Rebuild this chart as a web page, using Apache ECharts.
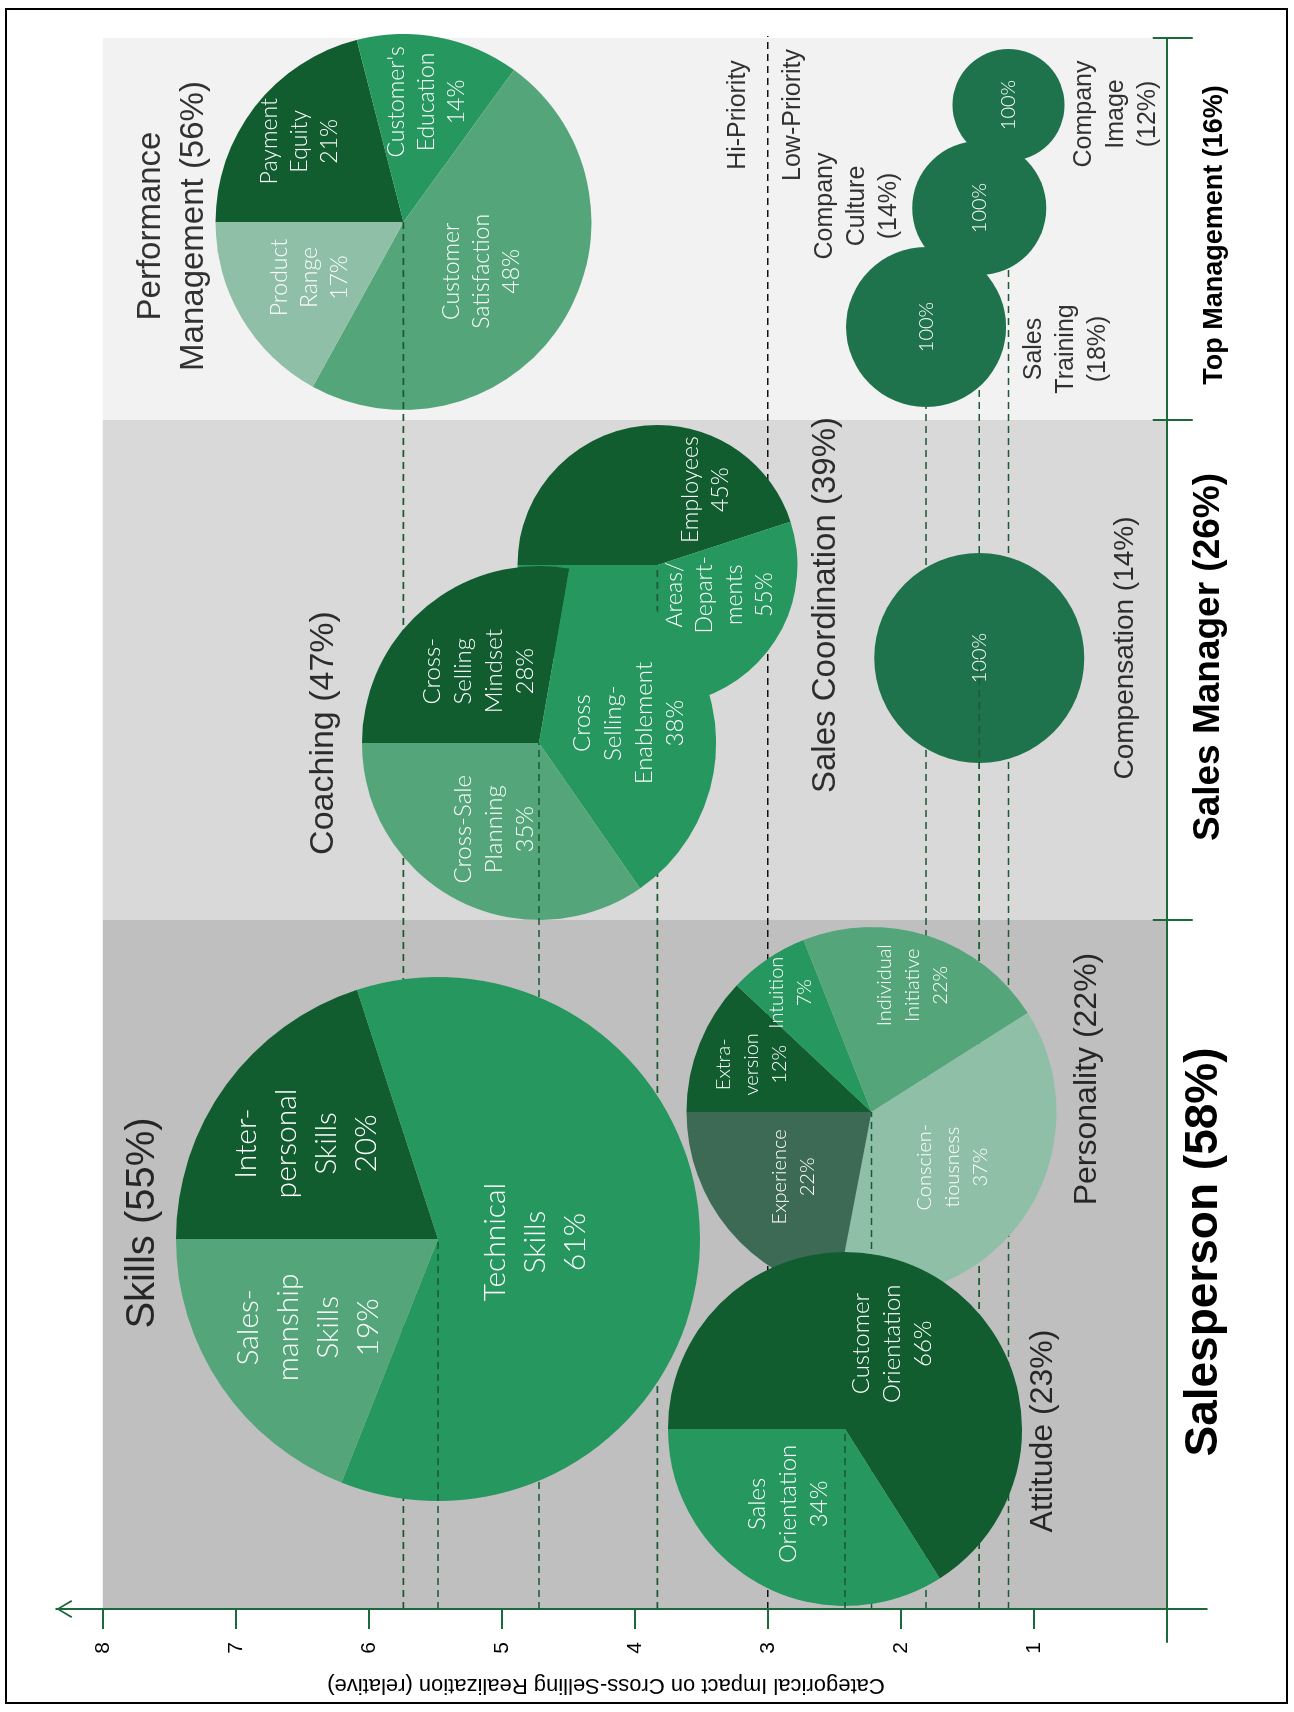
<!DOCTYPE html>
<html>
<head>
<meta charset="utf-8">
<title>Cross-Selling Realization Drivers</title>
<script src="https://cdn.jsdelivr.net/npm/echarts@6/dist/echarts.min.js"></script>
<style>
  html, body { margin: 0; padding: 0; background: #ffffff; width: 1294px; height: 1712px; overflow: hidden; }
  /* the chart is laid out in landscape and turned a quarter turn so the text runs upward */
  #stage { position: absolute; left: -209px; top: 209px; width: 1712px; height: 1294px;
           transform: rotate(-90deg); transform-origin: 50% 50%; }
</style>
</head>
<body>
<div id="stage"></div>
<script>
// ---------------- data ----------------
// relative impact scale
const impactTicks = [1, 2, 3, 4, 5, 6, 7, 8];

// organisational levels
const levels = ['Salesperson (58%)', 'Sales Manager (26%)', 'Top Management (16%)'];

// driver groups (drawing order) and their impact on cross-selling realization
const groupTitles = [
  'Company\nImage\n(12%)',
  'Company\nCulture\n(14%)',
  'Sales\nTraining\n(18%)',
  'Performance\nManagement (56%)',
  'Compensation (14%)',
  'Sales Coordination (39%)',
  'Coaching (47%)',
  'Skills (55%)',
  'Personality (22%)',
  'Attitude (23%)'
];
const groupImpact = [1.19, 1.41, 1.81, 5.74, 1.41, 3.83, 4.72, 5.48, 2.22, 2.42];

// sub-factors inside each group
const sliceLabels = [
  [''],
  [''],
  [''],
  ['Payment\nEquity', 'Customer\'s\nEducation', 'Customer\nSatisfaction', 'Product\nRange'],
  [''],
  ['Employees', 'Areas/\nDepart-\nments'],
  ['Cross-\nSelling\nMindset', 'Cross\nSelling-\nEnablement', 'Cross-Sale\nPlanning'],
  ['Inter-\npersonal\nSkills', 'Technical\nSkills', 'Sales-\nmanship\nSkills'],
  ['Extra-\nversion', 'Intuition', 'Individual\nInitiative', 'Conscien-\ntiousness', 'Experience'],
  ['Customer\nOrientation', 'Sales\nOrientation']
];
const sliceShares = [
  [100],
  [100],
  [100],
  [21, 14, 48, 17],
  [100],
  [45, 55],
  [28, 38, 35],
  [20, 61, 19],
  [12, 7, 22, 37, 22],
  [66, 34]
];

// priority split on the impact scale
const priorityThreshold = 3;
const priorityMarks = ['Hi-Priority', 'Low-Priority'];

// ---------------- layout & style ----------------
const DARK = '#115d30', MID = '#25975f', SOFT = '#54a67a', PALE = '#8fbfa6', SLATE = '#3d6a55', SOLID = '#1e734c';
const AXIS_GREEN = '#1c6a3b';
const LINE_GREEN = '#1a5a34';
const FONT_SANS = "'Liberation Sans', Arial, Helvetica, sans-serif";
const FONT_LIGHT = "Lato, 'Open Sans', 'Noto Sans', sans-serif";

const levelBounds = [689, 1189, 1571];           // borders between level bands
const levelLabelAt = [357, 952, 1374];           // label anchors along the level axis
const panelStart = [0, 689, 1189];
const panelColors = ['#bfbfbf', '#d9d9d9', '#f2f2f2'];
const levelLabelStyle = [
  { fontSize: 46, lineHeight: 46 },
  { fontSize: 37, lineHeight: 37 },
  { fontSize: 27, lineHeight: 27 }
];

const sliceColors = [
  [SOLID], [SOLID], [SOLID],
  [DARK, MID, SOFT, PALE],
  [SOLID],
  [DARK, MID],
  [DARK, MID, SOFT],
  [DARK, MID, SOFT],
  [DARK, MID, SOFT, PALE, SLATE],
  [DARK, MID]
];

// x = position along the level axis, r = radius (px), k = label distance / radius
const pieLayout = [
  { x: 1504, r: 56,  z: 3,  lineZ: 1,  font: 20, lh: 26, k: [0] },
  { x: 1401, r: 67,  z: 3,  lineZ: 1,  font: 20, lh: 26, k: [0] },
  { x: 1282, r: 80,  z: 3,  lineZ: 1,  font: 20, lh: 26, k: [0] },
  { x: 1387, r: 188, z: 4,  lineZ: 5,  font: 23, lh: 30, k: [0.70, 0.65, 0.49, 0.58] },
  { x: 951,  r: 105, z: 4,  lineZ: 5,  font: 20, lh: 26, k: [0] },
  { x: 1044, r: 140, z: 6,  lineZ: 7,  font: 23, lh: 30, k: [0.64, 0.49], ang: [-32.8, -115.7] },
  { x: 866,  r: 177, z: 8,  lineZ: 9,  font: 24, lh: 31, k: [0.53, 0.52, 0.55] },
  { x: 370,  r: 262, z: 10, lineZ: 11, font: 30, lh: 40, k: [0.62, 0.37, 0.60] },
  { x: 497,  r: 185, z: 10, lineZ: 11, font: 20, lh: 28, k: [0.70, 0.78, 0.72, 0.53, 0.55] },
  { x: 180,  r: 177, z: 12, lineZ: 13, font: 24, lh: 31, k: [0.55, 0.53], ang: [null, 143] }
];

// group title anchors [position along level axis, impact scale]
const titleLayout = [
  { at: [1495, 0.38], size: 25, lh: 32 },
  { at: [1403, 2.33], size: 25, lh: 32 },
  { at: [1260, 0.76], size: 25, lh: 32 },
  { at: [1383, 7.48], size: 33, lh: 43 },
  { at: [961, 0.31],  size: 28, lh: 32 },
  { at: [1004, 2.56], size: 33, lh: 36 },
  { at: [876, 6.34],  size: 34, lh: 38 },
  { at: [386, 7.70],  size: 40, lh: 44 },
  { at: [530, 0.60],  size: 32, lh: 36 },
  { at: [178, 0.93],  size: 32, lh: 36 }
];
const priorityLayout = [
  { at: [1494, 3.22], size: 25 },
  { at: [1494, 2.81], size: 25 }
];
const priorityLineEnd = 1583;

// ---------------- chart ----------------
const chart = echarts.init(document.getElementById('stage'), null, { renderer: 'canvas', width: 1712, height: 1294 });

const richLevels = {};
levelLabelStyle.forEach((s, i) => {
  richLevels['l' + i] = { fontSize: s.fontSize, lineHeight: s.lineHeight, fontWeight: 'bold', fontFamily: FONT_SANS, color: '#000' };
});

const axisLineStyle = { color: AXIS_GREEN, width: 2 };
const arrowPath = 'path://M9,0 L18,15 L16.4,16 L9,3.3 L1.6,16 L0,15 Z';

const baseOption = {
  animation: false,
  backgroundColor: '#ffffff',
  grid: { left: 70, right: 38, top: 56.25, bottom: 87.3, containLabel: false, outerBoundsMode: 'none' },
  xAxis: [
    {
      type: 'value', min: -33, max: 1571, position: 'bottom', z: 50,
      axisLine: { show: true, onZero: true, onZeroAxisIndex: 0, lineStyle: axisLineStyle },
      axisTick: { show: true, customValues: levelBounds, length: 26, lineStyle: axisLineStyle },
      axisLabel: {
        show: true, customValues: levelLabelAt, margin: 21, verticalAlign: 'bottom',
        formatter: function (v) {
          const i = levelLabelAt.indexOf(v);
          return i < 0 ? '' : '{l' + i + '|' + levels[i] + '}';
        },
        rich: richLevels
      },
      splitLine: { show: false }
    },
    {
      type: 'value', min: -33, max: 1571, position: 'bottom', z: 50,
      axisLine: { show: false, onZero: true, onZeroAxisIndex: 0 },
      axisTick: { show: true, inside: true, customValues: levelBounds, length: 14, lineStyle: axisLineStyle },
      axisLabel: { show: false },
      splitLine: { show: false }
    }
  ],
  yAxis: {
    type: 'value', min: -0.3, max: 8.35, z: 50,
    axisLine: { show: true, onZero: true, symbol: ['none', arrowPath], symbolSize: [18, 16], symbolOffset: [0, -8], lineStyle: axisLineStyle },
    axisTick: { show: true, customValues: impactTicks, length: 20, lineStyle: axisLineStyle },
    axisLabel: { show: true, customValues: impactTicks, margin: 0, fontSize: 21, color: '#000', fontFamily: FONT_SANS },
    splitLine: { show: false },
    name: 'Categorical Impact on Cross-Selling Realization (relative)',
    nameLocation: 'middle', nameGap: 32, nameMoveOverlap: false,
    nameTextStyle: { fontSize: 22, color: '#000', fontFamily: FONT_SANS, padding: [0, 0, 0, 51] }
  },
  graphic: [{
    type: 'rect', silent: true, z: 100,
    shape: { x: 9, y: 6, width: 1694, height: 1281 },
    style: { fill: 'none', stroke: '#000', lineWidth: 2 }
  }],
  series: [{ type: 'line', data: [], silent: true }]
};

chart.setOption(baseOption);

const series = [];

// level bands
series.push({
  type: 'line', data: [], silent: true, z: 0,
  markArea: {
    silent: true, z: 0,
    data: panelStart.map((s, i) => [
      { xAxis: s, yAxis: 0, itemStyle: { color: panelColors[i], opacity: 1 } },
      { xAxis: levelBounds[i], yAxis: impactTicks[impactTicks.length - 1] }
    ])
  }
});

// priority split
series.push({
  type: 'line', silent: true, z: 1, clip: false, symbol: 'none', animation: false,
  lineStyle: { color: '#111', width: 1.6, type: [7, 5] },
  data: [[0, priorityThreshold], [priorityLineEnd, priorityThreshold]]
});

// groups: guide line to the impact scale + pie of sub-factors
groupImpact.forEach((impact, g) => {
  const L = pieLayout[g];
  const c = chart.convertToPixel({ xAxisIndex: 0, yAxisIndex: 0 }, [L.x, impact]);
  const cx = c[0], cy = c[1];

  series.push({
    type: 'line', silent: true, z: L.lineZ, clip: false, symbol: 'none', animation: false,
    lineStyle: { color: LINE_GREEN, width: 1.6, type: [7, 5] },
    data: [[0, impact], [L.x, impact]]
  });

  const shares = sliceShares[g];
  const total = shares.reduce((a, b) => a + b, 0);
  const targets = [];
  let acc = 0;
  shares.forEach((v, i) => {
    const mid = 90 - 360 * (acc + v / 2) / total;
    acc += v;
    const ang = (L.ang && L.ang[i] != null) ? L.ang[i] : mid;
    const k = L.k[i] != null ? L.k[i] : 0.5;
    const rad = ang * Math.PI / 180;
    targets.push([cx + k * L.r * Math.cos(rad), cy - k * L.r * Math.sin(rad)]);
  });

  series.push({
    type: 'pie', silent: true, z: L.z, animation: false,
    center: [cx, cy], radius: L.r, startAngle: 90, clockwise: true,
    avoidLabelOverlap: false,
    itemStyle: { borderWidth: 0 },
    emphasis: { disabled: true },
    labelLine: { show: false },
    label: {
      show: true, position: 'inside', color: '#ffffff',
      fontFamily: FONT_LIGHT, fontWeight: 300, fontSize: L.font, lineHeight: L.lh,
      align: 'center', verticalAlign: 'middle',
      formatter: function (p) { return (p.name ? p.name + '\n' : '') + p.value + '%'; }
    },
    labelLayout: function (p) {
      const t = targets[p.dataIndex];
      return { x: t[0], y: t[1], align: 'center', verticalAlign: 'middle' };
    },
    data: shares.map((v, i) => ({ name: sliceLabels[g][i], value: v, itemStyle: { color: sliceColors[g][i] } }))
  });
});

// group titles and priority captions
const titleData = groupTitles.map((t, i) => ({
  name: t, value: titleLayout[i].at,
  label: { fontSize: titleLayout[i].size, lineHeight: titleLayout[i].lh }
})).concat(priorityMarks.map((t, i) => ({
  name: t, value: priorityLayout[i].at,
  label: { fontSize: priorityLayout[i].size, lineHeight: priorityLayout[i].size + 4 }
})));

series.push({
  type: 'scatter', silent: true, z: 30, clip: false, animation: false,
  symbolSize: 1, itemStyle: { color: 'rgba(0,0,0,0)' },
  label: {
    show: true, position: 'inside', formatter: '{b}', color: '#000',
    fontFamily: FONT_SANS, align: 'center', verticalAlign: 'middle'
  },
  data: titleData
});

const fullOption = Object.assign({}, baseOption, { series: series });
chart.setOption(fullOption, true);
</script>
</body>
</html>
